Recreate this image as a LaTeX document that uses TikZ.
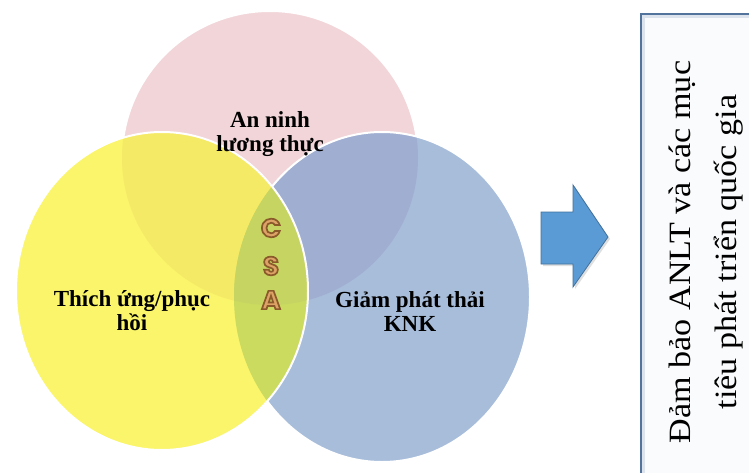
\documentclass[tikz,border=0pt]{standalone}
\usepackage{fontspec}
\setmainfont{Liberation Serif}
\newfontfamily\csafont{Poppins}
\usetikzlibrary{shadows}

\definecolor{pinkc}{HTML}{F2D5D8}
\definecolor{yellowc}{HTML}{FAF56A}
\definecolor{bluec}{HTML}{A8BDDA}
\definecolor{pyc}{HTML}{F5EA66}
\definecolor{pbc}{HTML}{A0AED2}
\definecolor{ybc}{HTML}{CADB60}
\definecolor{pybc}{HTML}{C6D462}
\definecolor{arrowfill}{HTML}{5B9BD5}
\definecolor{arrowedge}{HTML}{41719C}
\definecolor{boxedge}{HTML}{52739C}
\definecolor{boxband}{HTML}{DDE3EC}
\definecolor{boxfill}{HTML}{FAFBFC}
\definecolor{csafill}{HTML}{DDA266}

% letter filled in tan and stroked with a brown rim (text render mode 2)
\newcommand\rimtext[1]{%
  {\color{csafill}%
   \special{pdf:code q 2 Tr 1.7 w 0.545 0.353 0.169 RG}#1\special{pdf:code Q}}}

\begin{document}
\begin{tikzpicture}[x=1pt,y=-1pt,
  ring/.style={draw=white,line width=2pt},
  lbl/.style={font=\bfseries\fontsize{23}{24}\selectfont,align=center,inner sep=0pt},
  csa/.style={font=\csafont\bfseries\fontsize{26}{26}\selectfont,inner sep=0pt},
  goaltext/.style={font=\fontsize{31}{46}\selectfont,align=center,inner sep=0pt},
]
\useasboundingbox (0,0) rectangle (749,473);
\clip (0,0) rectangle (749,473);
\fill[white] (0,0) rectangle (749,473);

\coordinate (P) at (270,158);
\coordinate (Y) at (162,291);
\coordinate (B) at (382,297);

% food security circle
\fill[pinkc] (P) ellipse [x radius=148pt, y radius=147pt];
\draw[ring] (P) ellipse [x radius=148pt, y radius=147pt];

% mitigation circle
\fill[bluec] (B) ellipse [x radius=148pt, y radius=165pt];
\begin{scope}
  \clip (P) ellipse [x radius=148pt, y radius=147pt];
  \fill[pbc] (B) ellipse [x radius=148pt, y radius=165pt];
\end{scope}
\draw[ring] (B) ellipse [x radius=148pt, y radius=165pt];

% adaptation circle
\fill[yellowc] (Y) ellipse [x radius=146pt, y radius=159pt];
\begin{scope}
  \clip (P) ellipse [x radius=148pt, y radius=147pt];
  \fill[pyc] (Y) ellipse [x radius=146pt, y radius=159pt];
\end{scope}
\begin{scope}
  \clip (B) ellipse [x radius=148pt, y radius=165pt];
  \fill[ybc] (Y) ellipse [x radius=146pt, y radius=159pt];
\end{scope}
\begin{scope}
  \clip (P) ellipse [x radius=148pt, y radius=147pt];
  \clip (B) ellipse [x radius=148pt, y radius=165pt];
  \fill[pybc] (Y) ellipse [x radius=146pt, y radius=159pt];
\end{scope}
\draw[ring] (Y) ellipse [x radius=146pt, y radius=159pt];

% circle labels
\node[lbl] (food)  at (270,134) {An ninh\\lương thực};
\node[lbl] (adapt) at (132,311) {Thích ứng/phục\\hồi};
\node[lbl] (mitig) at (410,312) {Giảm phát thải\\KNK};

% CSA in the common lens
\node[csa] (csaC) at (271,228) {\rimtext{C}};
\node[csa] (csaS) at (271,266) {\rimtext{S}};
\node[csa] (csaA) at (271,300) {\rimtext{A}};

% block arrow
\draw[fill=arrowfill, draw=arrowedge, line width=0.8pt, line join=miter,
      drop shadow={shadow xshift=2pt, shadow yshift=-2pt, opacity=0.25}]
  (541,212) -- (573,212) -- (573,185) -- (608,237) -- (573,287)
  -- (573,264) -- (541,264) -- cycle;

% goal frame
\draw[fill=boxfill, draw=boxedge, line width=1.3pt,
      drop shadow={shadow xshift=3pt, shadow yshift=-3pt, opacity=0.3}]
  (641,14) rectangle (800,520);
\draw[boxband, line width=3pt] (643.8,16.8) rectangle (800,520);
\node[goaltext, rotate=90, xscale=1.1] (goal) at (706,252)
  {Đảm bảo ANLT và các mục\\tiêu phát triển quốc gia};
\end{tikzpicture}
\end{document}
